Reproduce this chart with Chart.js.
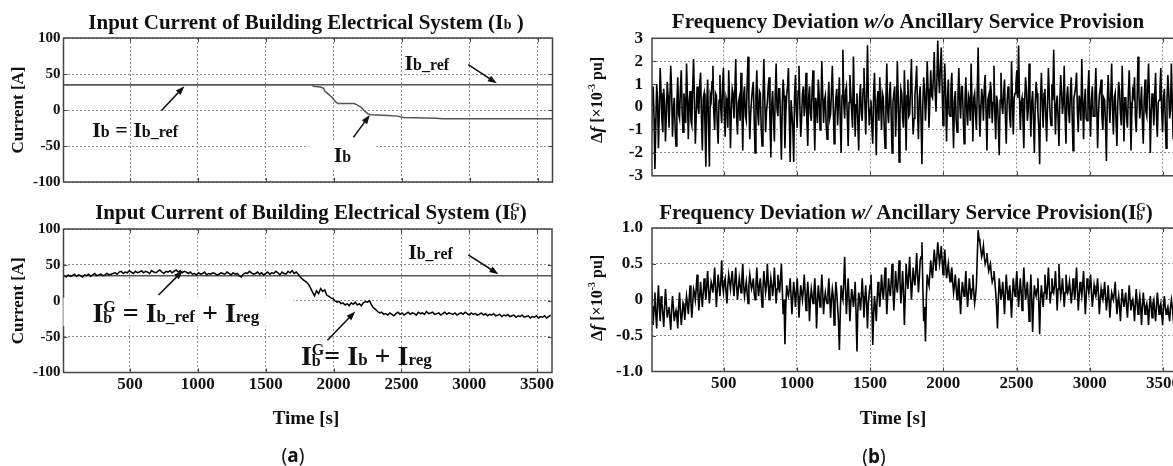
<!DOCTYPE html>
<html><head><meta charset="utf-8">
<script src="https://cdn.jsdelivr.net/npm/chart.js@4/dist/chart.umd.min.js"></script>
<style>
html,body{margin:0;padding:0;background:#fff;overflow:hidden;width:1173px;height:466px;position:relative;}
canvas{position:absolute;}
.lbl{position:absolute;font-family:"Noto Sans",sans-serif;font-size:19px;color:#111;transform:translate(-50%,-50%);white-space:nowrap;}
.lbl b{font-weight:bold;}
</style></head><body>
<canvas id="cTL" width="586" height="195" style="left:0;top:0"></canvas>
<canvas id="cBL" width="586" height="271" style="left:0;top:195px"></canvas>
<canvas id="cTR" width="620" height="195" style="left:580px;top:0"></canvas>
<canvas id="cBR" width="620" height="271" style="left:580px;top:195px"></canvas>
<div class="lbl" style="left:293px;top:455px">(<b>a</b>)</div>
<div class="lbl" style="left:874px;top:456px">(<b>b</b>)</div>
<script>
// ---------------- DATA ----------------
const timeRange = [10, 3610];
const xTickValues = [500, 1000, 1500, 2000, 2500, 3000, 3500];
const currentTickValues = [-100, -50, 0, 50, 100];
const dfTickValuesA = [-3, -2, -1, 0, 1, 2, 3];
const dfTickValuesB = [-1, -0.5, 0, 0.5, 1];

const IbRef = 35;
const IbTime = [10, 1840, 1850, 1900, 1925, 1935, 1960, 1990, 2010, 2030, 2150, 2170, 2200, 2225, 2250, 2270, 2400, 2470, 2510, 2750, 2800, 3610];
const IbValues = [35, 35, 33, 32, 30, 26, 22, 17, 12, 9, 9, 7, 4, -1, -5, -6.5, -7.5, -8.5, -10.5, -11.5, -12, -12];

const IgStart = 15, IgStep = 15;
const IgValues = [
 35,33,36,34,35,37,34,36,35,33,36,35,37,34,36,38,35,36,37,35,36,38,36,37,38,
 39,37,40,41,38,40,39,42,40,38,41,39,40,42,39,41,40,38,42,40,39,41,43,40,38,41,40,42,39,41,43,40,42,39,41,40,38,
 40,37,38,36,39,37,38,40,36,38,37,39,38,36,37,39,38,37,40,38,36,39,37,38,35,33,37,39,38,41,39,37,38,40,37,39,36,38,40,37,39,
 38,41,39,36,40,38,37,41,39,42,38,40,37,
 33,30,28,26,23,18,12,7,14,10,17,13,15,8,6,4,3,0,-2,-1,-4,-3,-6,-4,-7,-3,-5,-2,-6,-4,-7,-3,-1,-2,0,-6,-10,-12,-15,-17,
 -16,-19,-18,-20,-17,-19,-21,-18,-16,-19,-17,-20,-18,-16,-19,-17,-18,-20,-16,-18,
 -17,-19,-15,-18,-17,-16,-19,-18,-17,-20,-18,-16,-19,-17,-18,-19,-17,-20,-18,-17,
 -19,-16,-18,-20,-17,-19,-18,-20,-19,-17,-20,-18,-21,-19,-20,-18,-21,-20,-19,-22,
 -20,-21,-19,-22,-21,-20,-23,-21,-22,-20,-23,-22,-21,-24,-22,-23,-21,-24,-22,-23,
 -21,-24,-22,-20
];

const dfStart = 6, dfStep = 6;
const dfWithout = [
 -1.2,0.4,0.9,-0.5,-2.7,-0.8,1.0,0.3,-1.8,-0.2,1.7,0.6,-0.6,-1.1,0.8,0.2,-1.5,-0.4,1.1,0.5,
 -0.9,0.3,1.8,0.7,-1.3,-0.1,0.4,-0.9,-1.7,0.2,1.3,-0.3,-0.5,0.8,1.6,-0.2,-1.1,0.6,0.2,-0.7,
 1.9,0.5,-1.4,0.2,0.7,-0.6,-0.8,0.9,2.1,0.3,-1.6,-0.4,0.9,0.1,-0.3,1.0,1.5,-0.5,-1.9,0.4,
 0.6,-0.8,-2.6,0.1,1.2,-0.7,-2.6,0.5,0.3,1.1,1.8,-0.2,-1.0,0.6,0.5,-0.8,-1.6,0.3,1.4,-0.1,
 -0.7,0.9,1.7,-0.3,-1.3,0.4,0.2,-0.9,1.6,0.3,-1.8,-0.2,0.8,0.6,-0.5,0.7,2.1,-0.4,-1.2,0.2,
 0.4,-0.6,1.5,0.1,-1.9,0.5,0.9,-0.4,-0.6,1.0,2.2,0.2,-1.4,-0.3,0.3,0.8,1.1,-0.5,-2.0,0.4,
 1.6,-0.2,-0.8,0.7,0.6,-0.9,-1.7,0.3,2.1,0.4,-1.1,-0.2,0.2,0.9,1.3,-0.6,-2.2,0.1,0.7,-0.5,
 -1.5,0.6,1.9,-0.1,-0.4,0.8,0.8,-0.7,-2.3,0.2,1.2,0.5,-1.8,-0.3,0.5,0.9,1.7,-0.4,-2.4,0.3,
 0.3,-0.9,-2.4,0.5,1.4,-0.2,-0.9,0.7,1.8,0.1,-1.3,-0.5,0.6,0.9,-0.4,0.2,1.5,-0.6,-1.7,0.4,
 0.9,-0.3,-0.6,0.8,1.6,-0.1,-1.9,0.4,0.1,-0.7,1.2,0.5,-1.0,-0.2,2.0,0.6,-0.7,0.3,0.5,-0.8,
 -1.4,0.2,1.1,-0.5,-0.3,0.7,1.8,0.1,-1.6,-0.4,0.4,0.8,-0.8,0.3,1.3,-0.6,-2.0,0.5,2.5,0.2,
 -0.5,0.7,0.9,-0.4,-1.7,0.2,1.4,0.6,-0.2,-0.9,2.2,0.3,-1.3,0.1,0.6,-0.7,-1.9,0.4,1.0,-0.3,
 -0.6,0.8,1.7,0.2,-1.2,0.5,2.7,0.4,-0.8,-0.1,0.3,-0.9,-1.6,0.6,1.5,-0.2,-2.1,0.3,0.7,-0.6,
 1.3,0.2,-1.0,0.6,0.4,-0.8,-1.8,0.3,1.9,-0.2,-0.7,0.5,1.1,-0.4,-2.0,0.2,0.6,0.9,-1.3,-0.1,
 2.0,0.4,-2.4,-0.3,0.8,0.6,-0.5,-0.9,1.6,0.2,-1.9,0.5,1.2,-0.4,-0.3,0.8,2.1,0.1,-1.2,-0.5,
 0.5,1.0,1.8,-0.2,-1.4,0.4,0.9,-0.6,-2.5,0.1,1.3,0.7,-0.6,0.3,2.0,0.8,-0.9,0.2,1.6,0.5,
 0.4,1.3,2.4,0.7,-0.2,1.1,2.9,1.4,0.6,1.8,2.6,0.9,-0.8,0.4,1.9,0.6,-1.5,0.2,1.2,-0.3,
 -0.4,0.8,1.5,-0.2,-1.8,0.3,0.7,-0.6,-1.1,0.5,1.7,0.2,-0.5,0.9,0.9,-0.4,-1.6,0.3,1.3,-0.2,
 -0.8,0.5,0.3,-0.6,1.9,0.2,-1.5,0.4,0.6,-0.3,-1.0,0.7,2.6,0.1,-1.3,-0.2,0.8,0.4,-0.6,0.9,
 1.4,-0.2,-1.9,0.3,0.5,-0.5,1.1,0.6,-0.7,0.2,1.8,-0.3,-1.4,0.5,0.2,-0.8,-2.1,0.3,1.5,0.1,
 -0.3,0.6,1.2,-0.4,-1.6,0.2,0.9,0.5,-0.5,-0.9,2.0,0.3,-1.2,0.4,0.6,1.0,1.6,0.4,2.7,0.5,
 -1.0,0.2,0.4,-0.6,-1.8,0.3,1.3,0.7,-0.6,-0.2,1.9,0.4,-1.3,0.2,0.7,-0.5,-2.0,0.1,1.1,0.6,
 -0.2,-0.9,-2.5,0.3,1.5,0.2,-0.9,0.6,0.8,-0.4,-1.5,0.1,1.7,0.5,-0.4,-0.8,1.0,0.3,2.5,0.4,
 -1.2,0.1,0.5,-0.5,-1.7,0.3,1.4,0.6,-0.3,0.2,1.8,-0.4,-1.6,0.5,0.9,-0.2,-0.7,0.6,1.3,-0.3,
 -1.9,0.4,0.6,0.9,1.5,-0.2,-1.1,0.5,0.2,-0.6,2.1,0.3,-1.4,0.2,0.8,-0.5,-0.6,0.7,1.6,-0.1,
 -1.3,0.3,0.9,-0.4,-0.4,0.6,1.7,0.1,-1.8,-0.3,0.5,0.8,1.2,-0.5,-1.0,0.4,0.3,-0.7,-2.35,0.2,
 1.4,0.3,-0.7,0.5,1.9,-0.1,-1.2,0.4,0.6,-0.6,-1.7,0.2,1.1,0.7,-0.3,-0.8,1.8,0.1,-1.5,0.4,
 0.4,-0.5,-0.9,0.6,1.6,0.2,-1.9,-0.2,0.7,0.5,1.3,-0.4,-1.1,0.3,2.2,0.6,-0.5,0.1,0.9,-0.6,
 -1.6,0.3,1.2,-0.2,-0.4,0.7,1.9,0.4,-2.0,-0.3,0.6,0.2,-0.8,0.5,1.5,-0.4,-1.3,0.2,0.3,0.8,
 1.7,-0.2,-1.1,0.4,0.8,-0.5,-1.8,0.3,1.4,0.6,-0.5,-0.1,1.9,0.2,-1.4,0.5,0.6,-0.4,-0.9,0.3
];
const dfWith = [
 0.3,0.0,-0.35,-0.1,0.1,-0.2,-0.4,-0.05,0.2,-0.1,-0.3,0.05,-0.05,-0.2,-0.38,-0.1,0.15,-0.05,-0.25,-0.15,
 -0.1,-0.25,-0.42,-0.15,0.05,-0.1,-0.3,-0.2,-0.15,-0.25,-0.4,-0.1,0.1,-0.15,-0.35,-0.2,-0.05,-0.1,-0.28,-0.1,
 0.05,-0.05,-0.2,0.0,0.2,-0.05,-0.25,-0.05,0.15,0.1,0.0,0.15,0.35,0.1,-0.15,0.05,0.25,0.05,-0.1,0.1,
 0.3,0.15,0.0,0.2,0.4,0.15,-0.05,0.1,0.25,0.2,0.1,0.25,0.45,0.15,-0.1,0.15,0.35,0.2,0.05,0.25,
 0.55,0.2,0.1,0.25,0.3,0.1,-0.05,0.2,0.35,0.25,0.15,0.3,0.4,0.2,0.05,0.25,0.45,0.2,0.0,0.15,
 0.3,0.2,0.1,0.3,0.5,0.2,0.05,0.15,0.25,0.1,-0.05,0.2,0.35,0.25,0.15,0.2,0.3,0.1,0.0,0.2,
 0.45,0.2,0.05,0.2,0.3,0.1,-0.1,0.15,0.4,0.25,0.1,0.2,0.5,0.25,0.0,0.15,0.3,0.2,0.05,0.2,
 0.45,0.2,-0.05,0.15,0.35,0.2,0.1,0.3,0.5,0.15,-0.2,0.0,-0.62,-0.1,0.2,0.1,0.05,0.15,0.3,0.05,
 -0.2,0.05,0.25,0.1,-0.1,0.1,0.3,0.05,-0.25,0.0,0.2,0.1,0.0,0.15,0.35,0.1,-0.15,0.05,0.25,0.05,
 -0.3,0.0,0.15,0.05,-0.05,0.1,0.3,0.05,-0.4,-0.05,0.2,0.05,-0.1,0.1,0.35,0.1,-0.2,0.0,0.1,0.0,
 -0.05,0.1,0.3,0.05,-0.25,0.0,0.15,0.05,-0.35,-0.05,0.25,0.1,-0.1,-0.3,-0.7,-0.2,0.2,0.05,0.0,0.25,
 0.6,0.15,-0.2,0.05,0.3,0.0,-0.3,-0.05,0.15,0.05,-0.1,0.05,0.25,-0.2,-0.72,-0.15,0.1,0.0,-0.15,0.05,
 0.3,0.05,-0.25,0.0,0.2,-0.05,-0.4,-0.05,0.1,0.2,0.35,-0.1,-0.63,-0.2,0.05,-0.1,-0.3,0.0,0.25,0.1,
 -0.1,0.1,0.35,0.15,0.0,0.2,0.45,0.15,-0.2,0.05,0.3,0.15,0.05,0.25,0.5,0.15,-0.15,0.1,0.4,0.2,
 0.1,0.3,0.55,0.25,-0.05,0.15,0.4,0.1,-0.35,0.05,0.5,0.3,0.15,0.35,0.6,0.3,0.0,0.2,0.45,0.3,
 0.2,0.4,0.65,0.35,0.1,0.3,0.55,0.6,0.8,0.2,-0.3,-0.1,-0.58,0.0,0.35,0.25,0.2,0.35,0.55,0.4,
 0.3,0.5,0.7,0.55,0.4,0.6,0.8,0.65,0.5,0.6,0.75,0.55,0.35,0.5,0.7,0.5,0.3,0.4,0.5,0.35,
 0.25,0.35,0.45,0.25,0.1,0.2,0.35,0.15,0.0,0.15,0.3,0.05,-0.2,0.05,0.25,0.15,0.05,0.2,0.4,0.1,
 -0.1,0.1,0.3,0.15,0.0,0.15,0.35,0.1,-0.05,0.05,0.2,0.6,0.97,0.85,0.8,0.7,0.6,0.65,0.75,0.6,
 0.5,0.55,0.65,0.5,0.4,0.45,0.5,0.35,0.25,0.3,0.4,0.25,0.1,-0.1,-0.4,0.0,0.3,0.15,0.0,0.1,
 0.25,0.05,-0.2,0.1,0.35,0.15,0.0,0.1,0.2,0.0,-0.25,0.05,0.3,0.15,0.05,0.2,0.4,0.15,-0.1,0.1,
 0.3,0.1,-0.15,0.15,0.45,0.2,0.0,0.1,0.25,0.0,-0.3,0.05,0.35,0.0,-0.45,-0.05,0.2,0.1,0.05,0.15,
 0.3,-0.05,-0.48,0.0,0.2,0.05,-0.1,0.1,0.35,0.15,0.0,0.2,0.45,0.2,-0.05,0.1,0.3,0.15,0.1,0.2,
 0.4,0.15,-0.15,0.15,0.5,0.2,0.05,0.15,0.3,0.1,-0.1,0.1,0.35,0.2,0.1,0.15,0.25,0.1,-0.05,0.1,
 0.3,0.15,0.0,0.2,0.45,0.15,-0.15,0.05,0.25,0.15,0.05,0.2,0.4,0.1,-0.2,0.05,0.3,0.2,0.1,0.2,
 0.35,0.1,-0.1,0.05,0.2,0.1,0.05,0.15,0.3,0.05,-0.2,0.0,0.15,0.05,0.0,0.1,0.25,0.05,-0.15,0.0,
 0.2,0.0,-0.25,-0.05,0.1,0.05,0.0,0.1,0.25,0.0,-0.2,-0.05,0.05,-0.1,-0.3,-0.05,0.15,0.0,-0.1,0.0,
 0.1,-0.1,-0.25,0.0,0.2,0.0,-0.15,-0.05,0.0,-0.1,-0.3,-0.05,0.15,-0.05,-0.2,-0.05,0.05,-0.1,-0.35,-0.1,
 0.1,-0.05,-0.2,-0.1,-0.05,-0.15,-0.35,-0.1,0.05,-0.1,-0.25,-0.05,0.0,-0.15,-0.3,-0.1,0.1,-0.05,-0.2,-0.1,
 -0.05,-0.2,-0.35,-0.1,0.05,-0.1,-0.2,-0.15,-0.1,-0.2,-0.3,-0.1,0.0,-0.1,-0.25,-0.15,-0.15,-0.1,-0.05,-0.1
];

// ---------------- helpers ----------------
const SERIF = '"Liberation Serif","Times New Roman",serif';
const GRID = '#8f8f8f', AXIS = '#444', INK = '#111';
Chart.defaults.font.family = SERIF;
Chart.defaults.font.weight = 'bold';
Chart.defaults.color = INK;

const seq = (start, step, vals) => vals.map((v, i) => ({x: start + i * step, y: v}));
const pairs = (xs, ys) => xs.map((x, i) => ({x: x, y: ys[i]}));
const hline = (v) => [{x: timeRange[0], y: v}, {x: timeRange[1], y: v}];

function fontStr(s){ return (s.it ? 'italic ' : '') + 'bold ' + s.s + 'px ' + (s.fam || SERIF); }
function segWidth(ctx, s){
  ctx.font = fontStr(s);
  if (s.stack) return Math.max(...s.stack.map(t => ctx.measureText(t).width));
  return ctx.measureText(s.t).width;
}
function drawRich(ctx, segs, x, y, align){
  const w = segs.reduce((a, s) => a + segWidth(ctx, s), 0);
  let cx = align === 'center' ? x - w / 2 : (align === 'right' ? x - w : x);
  ctx.textAlign = 'left'; ctx.textBaseline = 'alphabetic'; ctx.fillStyle = INK;
  for (const s of segs){
    const sw = segWidth(ctx, s);
    ctx.font = fontStr(s);
    if (s.stack){ ctx.fillText(s.stack[0], cx, y + s.up); ctx.fillText(s.stack[1], cx, y + (s.dn || 0)); }
    else ctx.fillText(s.t, cx, y + (s.dy || 0));
    cx += sw;
  }
  return w;
}
function arrow(ctx, x1, y1, x2, y2){
  const ang = Math.atan2(y2 - y1, x2 - x1), L = 9, W = 3.3;
  const c = Math.cos(ang), s = Math.sin(ang);
  ctx.strokeStyle = INK; ctx.fillStyle = INK; ctx.lineWidth = 1.6;
  ctx.beginPath(); ctx.moveTo(x1, y1); ctx.lineTo(x2 - L * 0.7 * c, y2 - L * 0.7 * s); ctx.stroke();
  ctx.beginPath(); ctx.moveTo(x2, y2);
  ctx.lineTo(x2 - L * c + W * s, y2 - L * s - W * c);
  ctx.lineTo(x2 - L * c - W * s, y2 - L * s + W * c);
  ctx.closePath(); ctx.fill();
}

const decoPlugin = {
  id: 'deco',
  afterDatasetsDraw(chart, args, opts){
    const ctx = chart.ctx, a = chart.chartArea, xs = chart.scales.x, ys = chart.scales.y;
    ctx.save();
    ctx.strokeStyle = AXIS; ctx.lineWidth = 1;
    ctx.beginPath();
    for (const v of xTickValues){
      const px = Math.round(xs.getPixelForValue(v)) + 0.5;
      ctx.moveTo(px, a.top); ctx.lineTo(px, a.top + 4);
      ctx.moveTo(px, a.bottom); ctx.lineTo(px, a.bottom - 4);
    }
    for (const t of ys.ticks){
      if (t.value === ys.min || t.value === ys.max) continue;
      const py = Math.round(ys.getPixelForValue(t.value)) + 0.5;
      ctx.moveTo(a.left, py); ctx.lineTo(a.left + 4, py);
      ctx.moveTo(a.right, py); ctx.lineTo(a.right - 4, py);
    }
    ctx.stroke();
    ctx.lineWidth = 1.5; ctx.strokeStyle = AXIS;
    ctx.strokeRect(a.left, a.top, a.right - a.left, a.bottom - a.top);
    for (const it of (opts.items || [])){
      if (it.type === 'arrow'){
        arrow(ctx, xs.getPixelForValue(it.x1), ys.getPixelForValue(it.y1), xs.getPixelForValue(it.x2), ys.getPixelForValue(it.y2));
      } else {
        const px = xs.getPixelForValue(it.x), py = ys.getPixelForValue(it.y);
        const base = py + 0.33 * it.size;
        const w = it.segs.reduce((acc, s) => acc + segWidth(ctx, s), 0);
        if (it.bg){
          ctx.fillStyle = '#fff';
          ctx.fillRect(px - it.bg.l, base - 0.66 * it.size - it.bg.t, w + it.bg.l + it.bg.r, 0.66 * it.size + it.bg.t + it.bg.b);
        }
        drawRich(ctx, it.segs, px, base, 'left');
      }
    }
    for (const tx of (opts.texts || [])){
      if (tx.rot){
        ctx.save(); ctx.translate(tx.x, tx.y); ctx.rotate(-Math.PI / 2);
        drawRich(ctx, tx.segs, 0, 6, 'center');
        ctx.restore();
      } else drawRich(ctx, tx.segs, tx.x, tx.y, tx.align || 'center');
    }
    ctx.restore();
  }
};

function makeChart(id, o){
  return new Chart(document.getElementById(id), {
    type: 'line',
    data: { datasets: o.datasets },
    options: {
      responsive: false, animation: false, events: [],
      layout: { padding: o.pad },
      elements: { point: { radius: 0 }, line: { tension: 0, borderJoinStyle: 'miter' } },
      plugins: { legend: { display: false }, tooltip: { enabled: false }, deco: o.deco },
      scales: {
        x: {
          type: 'linear', min: timeRange[0], max: timeRange[1],
          afterBuildTicks: s => { s.ticks = xTickValues.map(v => ({value: v})); },
          afterFit: s => { s.height = o.xH; },
          grid: { color: GRID, lineWidth: 1, drawTicks: false },
          border: { display: false, dash: [2, 2] },
          ticks: { display: o.xLabels, font: { size: 17, weight: 'bold', family: SERIF }, color: INK, padding: 2, maxRotation: 0, autoSkip: false, callback: v => String(v) }
        },
        y: {
          min: o.yTicks[0], max: o.yTicks[o.yTicks.length - 1],
          afterBuildTicks: s => { s.ticks = o.yTicks.map(v => ({value: v})); },
          afterFit: s => { s.width = o.yW; },
          grid: { color: GRID, lineWidth: 1, drawTicks: false },
          border: { display: false, dash: [2, 2] },
          ticks: { font: { size: o.yFont, weight: 'bold', family: SERIF }, color: INK, padding: o.yPad, autoSkip: false, callback: o.yFmt },
          title: o.yTitle ? { display: true, text: o.yTitle, font: { size: 17, weight: 'bold', family: SERIF }, color: INK, padding: { top: 8, bottom: 0 } } : { display: false }
        }
      }
    },
    plugins: [decoPlugin]
  });
}

const refLine = () => ({ data: hline(IbRef), borderColor: '#555', borderWidth: 1.5 });
const I = (s) => ({ t: 'I', s: s });
const sm = (t, s) => ({ t: t, s: s });
const GB = (s, up) => ({ stack: ['G', 'b'], s: s, up: up, dn: 1 });
const dfTitle = [sm('\u0394', 17), { t: 'f', s: 17, it: true }, sm(' [\u00d710', 16), { t: '-3', s: 10, dy: -7 }, sm(' pu]', 16)];
const intFmt = v => String(v);

// ---------------- charts ----------------
makeChart('cTL', {
  pad: { left: 0, top: 38, right: 33.5, bottom: 0 }, xH: 13, yW: 63.5, xLabels: false,
  yTicks: currentTickValues, yFont: 15, yPad: 3, yFmt: intFmt, yTitle: 'Current [A]',
  datasets: [
    { data: pairs(IbTime, IbValues), borderColor: '#555', borderWidth: 1.5 },
    refLine()
  ],
  deco: {
    items: [
      { x: 2520, y: 65, size: 22, segs: [I(22), sm('b_ref', 16)] },
      { type: 'arrow', x1: 2990, y1: 63, x2: 3200, y2: 37 },
      { x: 222, y: -27, size: 22, segs: [I(22), sm('b', 16), sm(' = ', 22), I(22), sm('b_ref', 16)] },
      { type: 'arrow', x1: 730, y1: -1, x2: 900, y2: 33 },
      { x: 2000, y: -62, size: 22, segs: [I(22), sm('b', 16)], bg: { l: 25, r: 25, t: 7, b: 7 } },
      { type: 'arrow', x1: 2144, y1: -38, x2: 2265, y2: -7 }
    ],
    texts: [
      { x: 306, y: 28.5, segs: [sm('Input Current of Building Electrical System (', 21), I(22), sm('b', 14), sm(' )', 21)] }
    ]
  }
});

makeChart('cBL', {
  pad: { left: 0, top: 34, right: 34, bottom: 0 }, xH: 93.5, yW: 63.5, xLabels: true,
  yTicks: currentTickValues, yFont: 15, yPad: 3, yFmt: intFmt, yTitle: 'Current [A]',
  datasets: [
    { data: seq(IgStart, IgStep, IgValues), borderColor: '#000', borderWidth: 1.5 },
    refLine()
  ],
  deco: {
    items: [
      { x: 2550, y: 68, size: 22, segs: [I(22), sm('b_ref', 16)] },
      { type: 'arrow', x1: 2993, y1: 64, x2: 3215, y2: 37 },
      { x: 223, y: -17, size: 28, segs: [I(28), GB(16, -10), sm(' = ', 28), I(28), sm('b_ref', 17), sm(' + ', 28), I(28), sm('reg', 17)], bg: { l: 29, r: 34, t: 6, b: 4 } },
      { type: 'arrow', x1: 710, y1: 8, x2: 890, y2: 42 },
      { x: 1760, y: -77, size: 28, segs: [I(28), GB(16, -10), sm('= ', 28), I(28), sm('b', 17), sm(' + ', 28), I(28), sm('reg', 17)] },
      { type: 'arrow', x1: 1955, y1: -55, x2: 2160, y2: -15 }
    ],
    texts: [
      { x: 311, y: 24, segs: [sm('Input Current of Building Electrical System (', 21), I(22), GB(12, -8), sm(')', 21)] },
      { x: 306, y: 229, segs: [sm('Time [s]', 19)] }
    ]
  }
});

makeChart('cTR', {
  pad: { left: 0, top: 38.3, right: 21, bottom: 0 }, xH: 12.5, yW: 72, xLabels: false,
  yTicks: dfTickValuesA, yFont: 17, yPad: 9, yFmt: intFmt,
  datasets: [ { data: seq(dfStart, dfStep, dfWithout), borderColor: '#000', borderWidth: 1.6 } ],
  deco: {
    texts: [
      { x: 328, y: 28, segs: [sm('Frequency Deviation ', 21), { t: 'w/o', s: 21, it: true }, sm(' Ancillary Service Provision', 21)] },
      { x: 16, y: 100, rot: true, segs: dfTitle }
    ]
  }
});

makeChart('cBR', {
  pad: { left: 0, top: 33, right: 21, bottom: 0 }, xH: 94.5, yW: 72, xLabels: true,
  yTicks: dfTickValuesB, yFont: 17, yPad: 9, yFmt: v => (v === 0 ? '0' : v.toFixed(1)),
  datasets: [ { data: seq(dfStart, dfStep, dfWith), borderColor: '#000', borderWidth: 1.6 } ],
  deco: {
    texts: [
      { x: 326, y: 23.5, segs: [sm('Frequency Deviation ', 21), { t: 'w/', s: 21, it: true }, sm(' Ancillary Service Provision(', 21), I(22), GB(12, -8), sm(')', 21)] },
      { x: 16, y: 103, rot: true, segs: dfTitle },
      { x: 313, y: 229, segs: [sm('Time [s]', 19)] }
    ]
  }
});
</script>
</body></html>
